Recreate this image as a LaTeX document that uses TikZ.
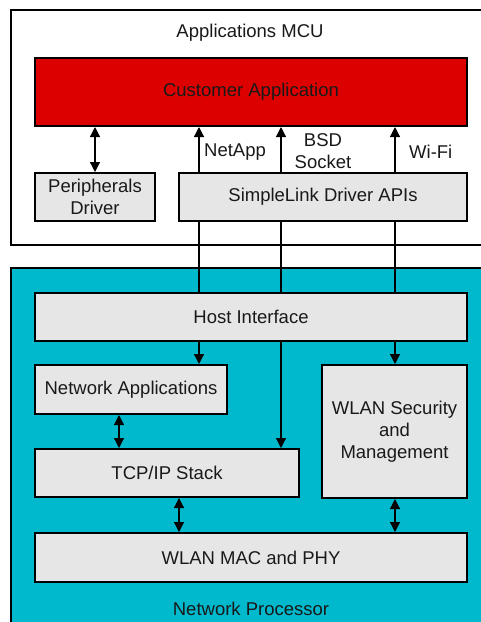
\documentclass[tikz,border=0pt]{standalone}
\usepackage{fontspec}
\setmainfont{Liberation Sans}
\usetikzlibrary{arrows.meta}
\definecolor{custred}{HTML}{DD0000}
\definecolor{npcyan}{HTML}{00B9CC}
\definecolor{boxgray}{HTML}{E6E6E6}
\begin{document}
\begin{tikzpicture}[x=1pt,y=-1pt]
    \tikzstyle{every node}+=[inner sep=0pt, font=\fontsize{18.5}{22}\selectfont, align=center, text=black!90]
    \tikzstyle{frame}=[draw=black, line width=2pt]
    \tikzstyle{block}=[draw=black, line width=2pt, fill=boxgray]
    \tikzstyle{link}=[line width=1.2pt, -{Triangle[width=10pt,length=10pt]}]
    \tikzstyle{dlink}=[line width=1.2pt, {Triangle[width=10pt,length=10pt]}-{Triangle[width=10pt,length=10pt]}]
    \useasboundingbox (0,0) rectangle (481,622);
    \node [frame, fill=white, minimum width=480pt, minimum height=235.5pt] (mcu) at (251,127.25) {};
    \node [frame, fill=npcyan, minimum width=480pt, minimum height=372pt] (np) at (251,454) {};
    \node (mcutext) at (250,33) {Applications MCU};
    \node (nptext) at (251,609) {Network Processor};
    \node [block, fill=custred, minimum width=432pt, minimum height=68pt] (cust) at (251,92) {Customer Application};
    \node [block, minimum width=120pt, minimum height=48pt] (periph) at (95,197) {Peripherals\\Driver};
    \node [block, minimum width=288pt, minimum height=48pt] (slink) at (323,197) {SimpleLink Driver APIs};
    \node [block, minimum width=432pt, minimum height=48pt] (host) at (251,317) {Host Interface};
    \node [block, minimum width=192pt, minimum height=49pt] (netapps) at (131,389.5) {Network Applications};
    \node [block, minimum width=145pt, minimum height=133pt] (wlansec) at (394.5,431.5) {WLAN Security\\and\\Management};
    \node [block, minimum width=264pt, minimum height=48pt] (tcpip) at (167,473) {TCP/IP Stack};
    \node [block, minimum width=432pt, minimum height=49pt] (mac) at (251,557.5) {WLAN MAC and PHY};
    \node [anchor=west] (netapptext) at (204,152) {NetApp};
    \node (bsdtext) at (323,151) {BSD\\Socket};
    \node [anchor=west] (wifitext) at (409,152) {Wi-Fi};
    \coordinate (xa) at (199,0);
    \coordinate (xb) at (281,0);
    \coordinate (xc) at (395,0);
    \coordinate (xd) at (119,0);
    \coordinate (xe) at (179,0);
    \draw [dlink] (periph.north) -- (cust.south -| periph.north);
    \draw [link] (slink.north -| xa) -- (cust.south -| xa);
    \draw [link] (slink.north -| xb) -- (cust.south -| xb);
    \draw [link] (slink.north -| xc) -- (cust.south -| xc);
    \draw [line width=1.2pt] (slink.south -| xa) -- (host.north -| xa);
    \draw [line width=1.2pt] (slink.south -| xb) -- (host.north -| xb);
    \draw [line width=1.2pt] (slink.south -| xc) -- (host.north -| xc);
    \draw [link] (host.south -| xa) -- (netapps.north -| xa);
    \draw [link] (host.south -| xb) -- (tcpip.north -| xb);
    \draw [link] (host.south -| xc) -- (wlansec.north -| xc);
    \draw [dlink] (netapps.south -| xd) -- (tcpip.north -| xd);
    \draw [dlink] (tcpip.south -| xe) -- (mac.north -| xe);
    \draw [dlink] (wlansec.south -| xc) -- (mac.north -| xc);
\end{tikzpicture}
\end{document}
